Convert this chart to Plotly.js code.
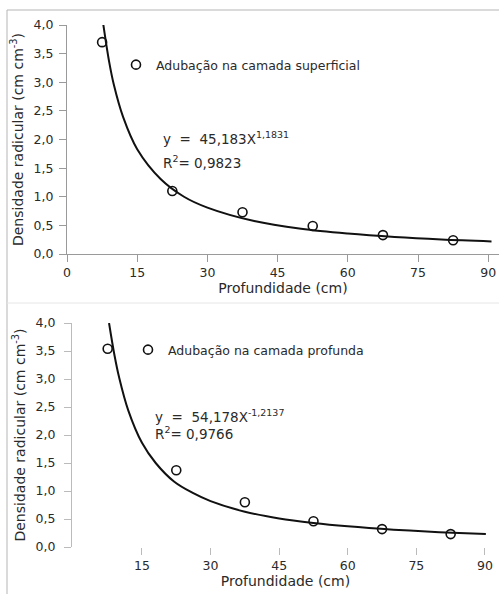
<!DOCTYPE html>
<html>
<head>
<meta charset="utf-8">
<script src="https://cdn.plot.ly/plotly-3.0.1.min.js"></script>
<style>html,body{margin:0;padding:0;background:#fff;}#chart{width:499px;height:594px;}</style>
</head>
<body>
<div id="chart"></div>
<script>
// ---- data ----
const depthCm = [7.5, 22.5, 37.5, 52.5, 67.5, 82.5];
const densSuperficial = [3.70, 1.10, 0.73, 0.49, 0.33, 0.24];
const densProfunda = [3.54, 1.37, 0.80, 0.46, 0.32, 0.23];

// fitted curves as drawn in the figure
const fitSupX = [7.7, 9, 10, 12, 15, 20, 25, 30, 40, 50, 60, 70, 80, 90.7];
const fitSupY = [4.04, 3.36, 2.96, 2.39, 1.83, 1.31, 1.00, 0.81, 0.575, 0.44, 0.356, 0.296, 0.253, 0.22];
const fitProX = [7.8, 9, 10, 12, 15, 18, 22, 26, 30, 37.5, 45, 52.5, 60, 70, 80, 90.2];
const fitProY = [4.0, 3.42, 3.03, 2.44, 1.86, 1.50, 1.17, 0.97, 0.82, 0.63, 0.51, 0.43, 0.37, 0.31, 0.265, 0.23];

const xTickVals1 = [0, 15, 30, 45, 60, 75, 90];
const xTickVals2 = [15, 30, 45, 60, 75, 90];
const yTickVals = [0, 0.5, 1, 1.5, 2, 2.5, 3, 3.5, 4];
const yTickText = ["0,0", "0,5", "1,0", "1,5", "2,0", "2,5", "3,0", "3,5", "4,0"];

const nameSup = "Adubação na camada superficial";
const namePro = "Adubação na camada profunda";
const eqSup = "y\u00A0 =\u00A0 45,183X<sup>1,1831</sup>";
const r2Sup = "R<sup>2</sup>= 0,9823";
const eqPro = "y\u00A0 =\u00A0 54,178X<sup>-1,2137</sup>";
const r2Pro = "R<sup>2</sup>= 0,9766";
const xTitle = "Profundidade (cm)";
const yTitle = "Densidade radicular (cm cm<sup>-3</sup>)";

// ---- chart ----
const W = 499, H = 594;
const px = v => v / W;
const py = v => (H - v) / H;
const FONT = "DejaVu Sans, Arial, sans-serif";
const TXT = "#2a2a2a";
const AX = "#9a9a9a";

const marker = {symbol: "circle-open", size: 9, color: "#111", line: {width: 1.6, color: "#111"}};

const traces = [
  {x: fitSupX, y: fitSupY, xaxis: "x", yaxis: "y", mode: "lines", line: {color: "#111", width: 2, shape: "spline"}, showlegend: false, hoverinfo: "skip"},
  {x: depthCm, y: densSuperficial, xaxis: "x", yaxis: "y", mode: "markers", name: nameSup, marker: marker, legend: "legend", cliponaxis: false},
  {x: fitProX, y: fitProY, xaxis: "x2", yaxis: "y2", mode: "lines", line: {color: "#111", width: 2, shape: "spline"}, showlegend: false, hoverinfo: "skip"},
  {x: depthCm, y: densProfunda, xaxis: "x2", yaxis: "y2", mode: "markers", name: namePro, marker: marker, legend: "legend2", cliponaxis: false}
];

const yAxisBase = {
  range: [0, 4], tickvals: yTickVals, ticktext: yTickText,
  showline: true, linecolor: AX, linewidth: 1, ticks: "outside", ticklen: 7, tickcolor: AX, tickwidth: 1,
  ticklabelstandoff: 3,
  showgrid: false, zeroline: false, tickfont: {family: FONT, size: 12.5, color: TXT},
  title: {text: yTitle, font: {family: FONT, size: 14, color: TXT}, standoff: 6}
};

const layout = {
  width: W, height: H,
  margin: {l: 0, r: 0, t: 0, b: 0},
  paper_bgcolor: "#fff", plot_bgcolor: "rgba(0,0,0,0)",
  font: {family: FONT, color: TXT},
  xaxis: {
    domain: [px(67), 1], range: [0, 92.3], anchor: "y",
    tickvals: xTickVals1, showline: true, linecolor: AX, linewidth: 1,
    ticks: "outside", ticklen: 7, tickcolor: AX, showgrid: false, zeroline: false,
    tickfont: {family: FONT, size: 12.5, color: TXT},
    title: {text: xTitle, font: {family: FONT, size: 14, color: TXT}, standoff: 2}
  },
  yaxis: Object.assign({}, yAxisBase, {domain: [py(254), py(25)], anchor: "x"}),
  xaxis2: {
    domain: [px(72), 1], range: [-0.3, 93.07], anchor: "y2",
    tickvals: xTickVals2, showline: false,
    ticks: "outside", ticklen: 7, tickcolor: "#bbb", showgrid: false, zeroline: false,
    tickfont: {family: FONT, size: 12.5, color: TXT},
    title: {text: xTitle, font: {family: FONT, size: 14, color: TXT}, standoff: 2}
  },
  yaxis2: Object.assign({}, yAxisBase, {domain: [py(547), py(323)], anchor: "x2", linecolor: "#bbb", tickcolor: "#bbb", ticklabelstandoff: 6}),
  legend: {x: px(116), y: py(65), xanchor: "left", yanchor: "middle", bgcolor: "rgba(0,0,0,0)", font: {family: FONT, size: 12.5, color: TXT}, itemwidth: 30},
  legend2: {x: px(128), y: py(350), xanchor: "left", yanchor: "middle", bgcolor: "rgba(0,0,0,0)", font: {family: FONT, size: 12.5, color: TXT}, itemwidth: 30},
  annotations: [
    {xref: "paper", yref: "paper", x: px(161), y: py(138), xanchor: "left", yanchor: "middle", text: eqSup, showarrow: false, font: {family: FONT, size: 13.5, color: TXT}},
    {xref: "paper", yref: "paper", x: px(161), y: py(162), xanchor: "left", yanchor: "middle", text: r2Sup, showarrow: false, font: {family: FONT, size: 13.5, color: TXT}},
    {xref: "paper", yref: "paper", x: px(153), y: py(416), xanchor: "left", yanchor: "middle", text: eqPro, showarrow: false, font: {family: FONT, size: 13.5, color: TXT}},
    {xref: "paper", yref: "paper", x: px(153), y: py(433), xanchor: "left", yanchor: "middle", text: r2Pro, showarrow: false, font: {family: FONT, size: 13.5, color: TXT}}
  ],
  shapes: [
    {type: "line", xref: "paper", yref: "paper", x0: px(7), x1: px(7), y0: 0, y1: py(10), line: {color: "#b5b5b5", width: 1}},
    {type: "line", xref: "paper", yref: "paper", x0: px(7), x1: 1, y0: py(10), y1: py(10), line: {color: "#b5b5b5", width: 1}},
    {type: "line", xref: "paper", yref: "paper", x0: px(7), x1: 1, y0: py(303), y1: py(303), line: {color: "#e6e6e6", width: 1}}
  ]
};

Plotly.newPlot("chart", traces, layout, {staticPlot: true, displayModeBar: false});
</script>
</body>
</html>
